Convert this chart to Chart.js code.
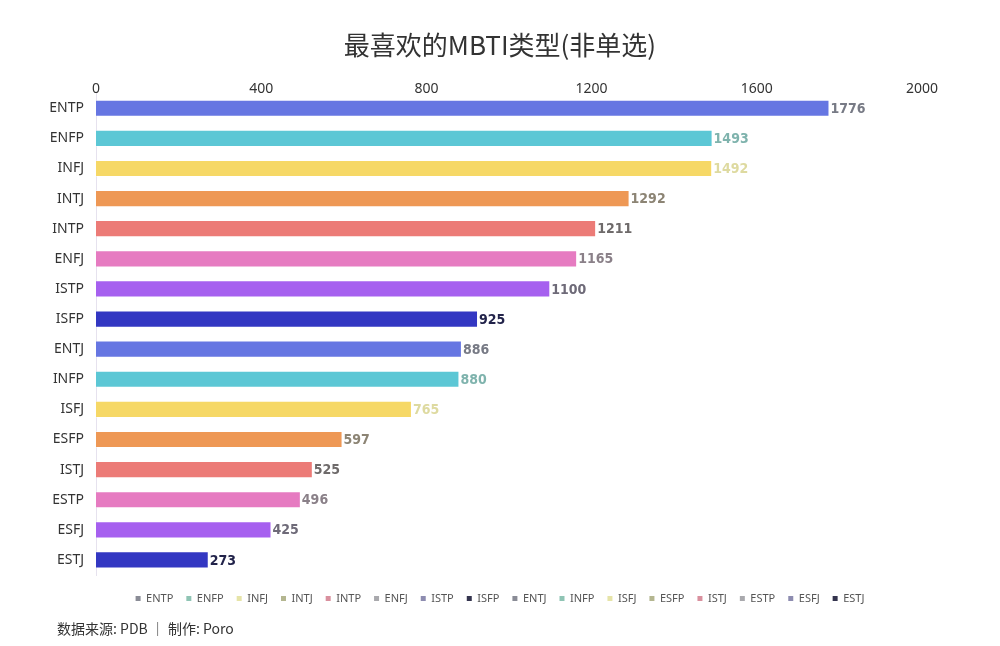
<!DOCTYPE html>
<html>
<head>
<meta charset="utf-8">
<script src="https://cdn.jsdelivr.net/npm/chart.js@4.4.1/dist/chart.umd.min.js"></script>
<style>
  html, body { margin: 0; padding: 0; background: #fff; }
  #wrap { position: relative; width: 1000px; height: 646px; }
  #footer {
    position: absolute; left: 57px; top: 618px;
    font: 14px "Noto Sans CJK SC", "Noto Sans", sans-serif; color: #333;
  }
</style>
</head>
<body>
<div id="wrap">
  <canvas id="chart" width="1000" height="646"></canvas>
  <div id="footer">数据来源: PDB ｜ 制作: Poro</div>
</div>
<script>
// data
const types = ["ENTP", "ENFP", "INFJ", "INTJ", "INTP", "ENFJ", "ISTP", "ISFP",
               "ENTJ", "INFP", "ISFJ", "ESFP", "ISTJ", "ESTP", "ESFJ", "ESTJ"];
const counts = [1776, 1493, 1492, 1292, 1211, 1165, 1100, 925,
                886, 880, 765, 597, 525, 496, 425, 273];
const xTicks = [0, 400, 800, 1200, 1600, 2000];

// palette repeats every 8 bars
const palette = ["#6676e2", "#5cc7d5", "#f6d866", "#ee9855", "#ec7b77", "#e67bc1", "#a660ef", "#3337c2"];
const labelPalette = ["#777a85", "#7fb3ad", "#dedaa0", "#8c8474", "#6e6a6a", "#8a8088", "#6e6a78", "#22234a"];
const legendPalette = ["#8a8c96", "#8fc4b4", "#e6e4a8", "#b4b690", "#d9909e", "#a9a9ad", "#8d8cb0", "#34344e"];

const barColors = types.map((t, i) => palette[i % 8]);
const valueColors = types.map((t, i) => labelPalette[i % 8]);
const legendColors = types.map((t, i) => legendPalette[i % 8]);

// value labels at bar ends
const valueLabels = {
  id: 'valueLabels',
  afterDatasetsDraw(chart) {
    const ctx = chart.ctx;
    const meta = chart.getDatasetMeta(0);
    ctx.save();
    ctx.font = 'bold 14px "DejaVu Sans Condensed", "DejaVu Sans", sans-serif';
    ctx.textAlign = 'left';
    ctx.textBaseline = 'middle';
    meta.data.forEach((bar, i) => {
      ctx.fillStyle = valueColors[i];
      ctx.fillText(counts[i], bar.x + 1, bar.y + 1);
    });
    ctx.restore();
  }
};

new Chart(document.getElementById('chart'), {
  type: 'bar',
  data: {
    labels: types,
    datasets: [{
      data: counts,
      backgroundColor: barColors,
      borderColor: 'rgba(255,255,255,0.35)',
      borderWidth: 1,
      barPercentage: 0.75,
      categoryPercentage: 0.76
    }]
  },
  options: {
    indexAxis: 'y',
    responsive: false,
    animation: false,
    layout: { padding: { left: 0, right: 0, top: 0, bottom: 32 } },
    scales: {
      x: {
        position: 'top',
        min: 0,
        max: 2000,
        afterBuildTicks: s => { s.ticks = xTicks.map(v => ({ value: v })); },
        afterFit: s => { s.height = 20; },
        grid: { display: false, drawTicks: false },
        border: { display: false },
        ticks: {
          padding: -4,
          color: '#333',
          font: { size: 14, family: '"Noto Sans", sans-serif' },
          callback: v => String(v)
        }
      },
      y: {
        afterFit: s => { s.width = 96; },
        grid: { display: false, drawTicks: false },
        border: { display: true, color: '#e6e2ee', width: 1 },
        ticks: {
          padding: 12,
          color: '#333',
          font: { size: 14, family: '"Noto Sans", sans-serif' }
        }
      },
      // empty right-hand gutter so title and legend centre on the page
      gutter: {
        type: 'category',
        axis: 'y',
        position: 'right',
        afterFit: s => { s.width = 78; },
        grid: { display: false, drawTicks: false },
        border: { display: false },
        ticks: { display: false }
      },
      // small gap between bars and legend
      gap: {
        type: 'linear',
        axis: 'x',
        position: 'bottom',
        afterFit: s => { s.height = 5; },
        grid: { display: false, drawTicks: false },
        border: { display: false },
        ticks: { display: false }
      }
    },
    plugins: {
      title: {
        display: true,
        text: '最喜欢的MBTI类型(非单选)',
        color: '#333',
        font: { size: 26, weight: 'normal', family: '"Noto Sans CJK SC", sans-serif' },
        padding: { top: 30, bottom: 12 }
      },
      legend: {
        display: true,
        position: 'bottom',
        onClick: null,
        labels: {
          boxWidth: 5,
          boxHeight: 5,
          padding: 13,
          color: '#555',
          font: { size: 11, family: '"Noto Sans", sans-serif' },
          generateLabels: () => types.map((t, i) => ({
            text: t,
            fillStyle: legendColors[i],
            strokeStyle: legendColors[i],
            lineWidth: 0,
            fontColor: '#555',
            index: i
          }))
        }
      },
      tooltip: { enabled: false }
    }
  },
  plugins: [valueLabels]
});
</script>
</body>
</html>
